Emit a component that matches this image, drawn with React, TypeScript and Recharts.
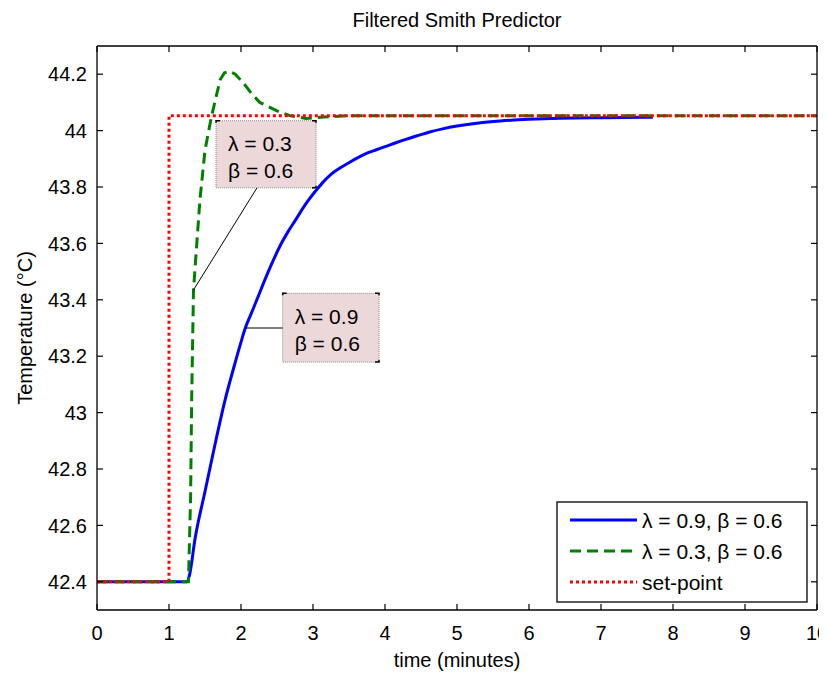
import React from 'react';
import { LineChart, Line, XAxis, YAxis, ReferenceArea, ReferenceLine, Customized } from 'recharts';

const FONT = '"Liberation Sans", Arial, Helvetica, sans-serif';

const xTicks = [0, 1, 2, 3, 4, 5, 6, 7, 8, 9, 10];
const yTicks = [42.4, 42.6, 42.8, 43, 43.2, 43.4, 43.6, 43.8, 44, 44.2];

// lambda = 0.9, beta = 0.6
const blueT = [0, 1.0, 1.25, 1.29, 1.36, 1.5, 1.65, 1.78, 1.9, 2.0, 2.06, 2.14, 2.22, 2.33, 2.44, 2.54, 2.65, 2.75, 2.9, 3.05, 3.15, 3.25, 3.38, 3.51, 3.63, 3.75, 3.88, 4.0, 4.15, 4.3, 4.45, 4.62, 4.8, 5.0, 5.3, 5.6, 6.0, 6.43, 7.0, 7.72];
const blueV = [42.4, 42.4, 42.4, 42.43, 42.55, 42.72, 42.9, 43.046, 43.16, 43.25, 43.3, 43.35, 43.4, 43.47, 43.535, 43.59, 43.64, 43.68, 43.74, 43.79, 43.82, 43.845, 43.868, 43.888, 43.905, 43.92, 43.932, 43.943, 43.957, 43.97, 43.982, 43.995, 44.006, 44.016, 44.027, 44.034, 44.04, 44.044, 44.046, 44.047];

// lambda = 0.3, beta = 0.6
const greenT = [0, 1.0, 1.27, 1.3, 1.315, 1.34, 1.43, 1.5, 1.59, 1.71, 1.77, 1.84, 1.92, 2.03, 2.15, 2.26, 2.5, 2.68, 2.9, 3.15, 3.5, 10];
const greenV = [42.4, 42.4, 42.4, 42.7, 43.05, 43.434, 43.756, 43.93, 44.05, 44.18, 44.205, 44.21, 44.2, 44.17, 44.13, 44.1, 44.07, 44.053, 44.043, 44.048, 44.053, 44.053];

// set-point
const spT = [0, 1, 1, 10];
const spV = [42.4, 42.4, 44.053, 44.053];

const seriesNames = ['\u03bb = 0.9,  \u03b2 = 0.6', '\u03bb = 0.3,  \u03b2 = 0.6', 'set-point'];
const seriesColors = ['#0000ff', '#008000', '#ff0000'];
const seriesDash = [undefined, '11 6', '3 3'];

const annLines1 = ['\u03bb = 0.3', '\u03b2 = 0.6'];
const annLines2 = ['\u03bb = 0.9', '\u03b2 = 0.6'];

const blueData = blueT.map((t, i) => ({ t, v: blueV[i] }));
const greenData = greenT.map((t, i) => ({ t, v: greenV[i] }));
const spData = spT.map((t, i) => ({ t, v: spV[i] }));

const W = 819;
const H = 665;
const PL = 89, PR = 809, PT = 38, PB = 602;

const fmt = (v: number) => String(v);
const TL = 6;
const TC = '#000';

const BottomTick = (p: any) => (
  <g>
    <line x1={p.x} y1={p.y} x2={p.x} y2={p.y - TL} stroke={TC} strokeWidth={1.2} />
    <text x={p.x} y={p.y + 23} dy="0.36em" textAnchor="middle" fontSize={20} fontFamily={FONT} fill="#000">
      {fmt(p.payload.value)}
    </text>
  </g>
);
const TopTick = (p: any) => (
  <line x1={p.x} y1={p.y} x2={p.x} y2={p.y + TL} stroke={TC} strokeWidth={1.2} />
);
const LeftTick = (p: any) => (
  <g>
    <line x1={p.x} y1={p.y} x2={p.x + TL} y2={p.y} stroke={TC} strokeWidth={1.2} />
    <text x={p.x - 10} y={p.y} dy="0.36em" textAnchor="end" fontSize={20} fontFamily={FONT} fill="#000">
      {fmt(p.payload.value)}
    </text>
  </g>
);
const RightTick = (p: any) => (
  <line x1={p.x} y1={p.y} x2={p.x - TL} y2={p.y} stroke={TC} strokeWidth={1.2} />
);

const AnnLabel = (props: any) => {
  const vb = props.viewBox || {};
  const { x, y, width, height } = vb;
  const lines: string[] = props.lines;
  const c = 4;
  return (
    <g>
      {lines.map((s, i) => (
        <text key={i} x={x + 12} y={y + 23 + i * 27} dy="0.36em" fontSize={21} fontFamily={FONT} fill="#000">
          {s}
        </text>
      ))}
      <path d={`M${x},${y + 2} L${x},${y} L${x + c},${y}`} stroke="#000" fill="none" strokeWidth={1.5} />
      <path d={`M${x + width - c},${y} L${x + width},${y} L${x + width},${y + 2}`} stroke="#000" fill="none" strokeWidth={1.5} />
      <path d={`M${x + width},${y + height - 2} L${x + width},${y + height} L${x + width - c},${y + height}`} stroke="#000" fill="none" strokeWidth={1.5} />
    </g>
  );
};

const Decor = () => {
  const lx = 549, ly = 494, lw = 250, lh = 100;
  const rows = [512, 543, 574];
  return (
    <g>
      <text x={449} y={12} dy="0.36em" textAnchor="middle" fontSize={20} fontFamily={FONT} fill="#000">
        Filtered Smith Predictor
      </text>
      <text x={449} y={652} dy="0.36em" textAnchor="middle" fontSize={20} fontFamily={FONT} fill="#000">
        time (minutes)
      </text>
      <text x={17} y={320} dy="0.36em" textAnchor="middle" fontSize={20} fontFamily={FONT} fill="#000" transform="rotate(-90 17 320)">
        Temperature (°C)
      </text>
      <rect x={lx} y={ly} width={lw} height={lh} fill="#fff" stroke="#000" strokeWidth={1.3} />
      {seriesNames.map((n, i) => (
        <g key={n}>
          <line x1={562} x2={629} y1={rows[i]} y2={rows[i]} stroke={seriesColors[i]} strokeWidth={3} strokeDasharray={seriesDash[i]} />
          <text x={634} y={rows[i]} dy="0.36em" fontSize={21} fontFamily={FONT} fill="#000">
            {n}
          </text>
        </g>
      ))}
    </g>
  );
};

export default function App() {
  return (
    <div style={{ width: W, height: H }}>
      <style>{`html,body{overflow:hidden;} .recharts-wrapper, .recharts-surface{overflow:visible !important;}`}</style>
      <LineChart
        width={W}
        height={H}
        margin={{ top: PT - 1, right: W - PR - 1, left: PL - 60, bottom: H - PB - 40 }}
        style={{ background: '#fff', overflow: 'visible' }}
      >
        <XAxis dataKey="t" type="number" domain={[0, 10]} ticks={xTicks} interval={0} allowDataOverflow height={40} tickSize={0} tickMargin={0} tickLine={false} axisLine={{ stroke: '#000', strokeWidth: 1.3 }} tick={<BottomTick />} />
        <XAxis xAxisId="top" orientation="top" dataKey="t" type="number" domain={[0, 10]} ticks={xTicks} interval={0} allowDataOverflow height={1} tickSize={0} tickMargin={0} tickLine={false} axisLine={{ stroke: '#000', strokeWidth: 1.3 }} tick={<TopTick />} />
        <YAxis type="number" domain={[42.3, 44.3]} ticks={yTicks} interval={0} allowDataOverflow width={60} tickSize={0} tickMargin={0} tickLine={false} axisLine={{ stroke: '#000', strokeWidth: 1.3 }} tick={<LeftTick />} />
        <YAxis yAxisId="right" orientation="right" type="number" domain={[42.3, 44.3]} ticks={yTicks} interval={0} allowDataOverflow width={1} tickSize={0} tickMargin={0} tickLine={false} axisLine={{ stroke: '#000', strokeWidth: 1.3 }} tick={<RightTick />} />
        <Line data={spData} xAxisId="top" yAxisId="right" dataKey="v" type="linear" dot={false} activeDot={false} stroke="none" legendType="none" isAnimationActive={false} />
        <Line data={blueData} dataKey="v" type="monotone" dot={false} activeDot={false} stroke={seriesColors[0]} strokeWidth={3} isAnimationActive={false} />
        <Line data={greenData} dataKey="v" type="linear" dot={false} activeDot={false} stroke={seriesColors[1]} strokeWidth={3} strokeDasharray={seriesDash[1]} isAnimationActive={false} />
        <Line data={spData} dataKey="v" type="linear" dot={false} activeDot={false} stroke={seriesColors[2]} strokeWidth={3} strokeDasharray={seriesDash[2]} isAnimationActive={false} />
        <ReferenceLine segment={[{ x: 1.338, y: 43.434 }, { x: 2.222, y: 43.797 }]} stroke="#000" strokeWidth={1} ifOverflow="visible" />
        <ReferenceLine segment={[{ x: 2.06, y: 43.3 }, { x: 2.579, y: 43.3 }]} stroke="#000" strokeWidth={1} ifOverflow="visible" />
        <ReferenceArea x1={1.653} x2={3.042} y1={43.797} y2={44.035} fill="#ecd8d8" fillOpacity={1} stroke="#8a8a8a" strokeDasharray="1 1" ifOverflow="visible" label={<AnnLabel lines={annLines1} />} />
        <ReferenceArea x1={2.579} x2={3.917} y1={43.179} y2={43.423} fill="#ecd8d8" fillOpacity={1} stroke="#8a8a8a" strokeDasharray="1 1" ifOverflow="visible" label={<AnnLabel lines={annLines2} />} />
        <Customized component={<Decor />} />
      </LineChart>
    </div>
  );
}
